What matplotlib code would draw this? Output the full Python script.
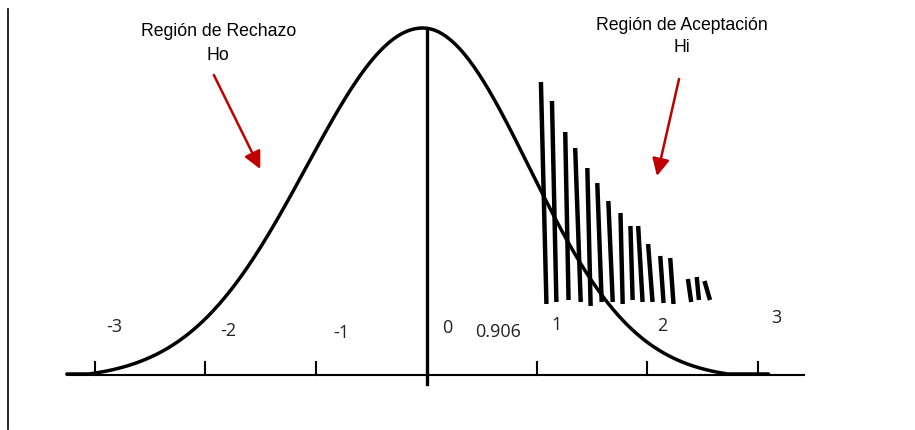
import numpy as np
import matplotlib
matplotlib.use("Agg")
import matplotlib.pyplot as plt

# === DATOS ===
# eje z (desviaciones estandar)
ticks_z = [-3, -2, -1, 1, 2, 3]
etiquetas = ["-3", "-2", "-1", "0", "0.906", "1", "2", "3"]
etiq_x = [-2.82, -1.79, -0.77, 0.19, 0.65, 1.18, 2.14, 3.17]
etiq_y = [49, 45, 43, 48, 44, 51, 50, 58]

# curva normal (algo asimetrica, dibujada a mano)
pico = 346
sigma_izq = 1.05
sigma_der = 0.96
centro = -0.03
cola = 0.016

# rayado de la region de aceptacion: (z arriba, alto arriba, z abajo, alto abajo)
raya_z_top = [1.04, 1.14, 1.26, 1.35, 1.46, 1.55, 1.65, 1.76, 1.85, 1.92, 2.01, 2.12, 2.21, 2.37, 2.45, 2.52]
raya_y_top = [293, 274, 243, 227, 207, 192, 174, 162, 149, 149, 131, 119, 117, 96, 98, 94]
raya_z_bot = [1.09, 1.18, 1.29, 1.40, 1.49, 1.59, 1.69, 1.78, 1.87, 1.96, 2.05, 2.15, 2.24, 2.40, 2.47, 2.57]
raya_y_bot = [71, 73, 75, 73, 69, 73, 73, 71, 75, 73, 73, 72, 71, 73, 75, 75]

fuente_tit = ["Liberation Sans Narrow", "Liberation Sans", "DejaVu Sans"]
fuente_num = ["Open Sans", "DejaVu Sans"]

fig = plt.figure(figsize=(9.15, 4.31), dpi=100, facecolor="white")
ax = fig.add_axes([0, 0, 1, 1])
ax.set_xlim(-426 / 110.5, (915 - 426) / 110.5)
ax.set_ylim(-55, 376)
ax.axis("off")

# linea vertical izquierda
ax.plot([-418 / 110.5, -418 / 110.5], [366, -54], color="black", lw=1.2)

# eje horizontal
ax.plot([-3.26, 3.43], [0, 0], color="black", lw=1.5, solid_capstyle="butt")
for t in ticks_z:
    ax.plot([t, t], [0, 13], color="black", lw=1.5)

# curva
z = np.linspace(-3.25, 3.1, 600)
s = np.where(z < centro, sigma_izq, sigma_der)
g = np.exp(-0.5 * ((z - centro) / s) ** 2)
y = np.clip(pico * (g - cola) / (1 - cola), 0, None) + 1
ax.plot(z, y, color="black", lw=2.5, solid_capstyle="round")

# linea central
ax.plot([0.01, 0.01], [346, -9], color="black", lw=2.4)

# rayado
for xt, yt, xb, yb in zip(raya_z_top, raya_y_top, raya_z_bot, raya_y_bot):
    ax.plot([xt, xb], [yt, yb], color="black", lw=3.2, solid_capstyle="butt")

# etiquetas numericas
for txt, x, yy in zip(etiquetas, etiq_x, etiq_y):
    ax.text(x, yy, txt, ha="center", va="center", fontsize=13, color="#222222",
            family=fuente_num)

# titulos
ax.text(-1.88, 344, "Región de Rechazo", ha="center", va="center", fontsize=12.7,
        family=fuente_tit)
ax.text(-1.88, 321, "Ho", ha="center", va="center", fontsize=12.7, family=fuente_tit)
ax.text(2.32, 351, "Región de Aceptación", ha="center", va="center", fontsize=12.7,
        family=fuente_tit)
ax.text(2.32, 328, "Hi", ha="center", va="center", fontsize=12.7, family=fuente_tit)

# flechas rojas
ax.annotate("", xy=(-1.50, 206), xytext=(-1.92, 300),
            arrowprops=dict(arrowstyle="-|>", color="#C00000", lw=1.8,
                            mutation_scale=26, shrinkA=0, shrinkB=0))
ax.annotate("", xy=(2.09, 199), xytext=(2.29, 296),
            arrowprops=dict(arrowstyle="-|>", color="#C00000", lw=1.8,
                            mutation_scale=26, shrinkA=0, shrinkB=0))

fig.savefig("out.png", dpi=100, facecolor="white")
